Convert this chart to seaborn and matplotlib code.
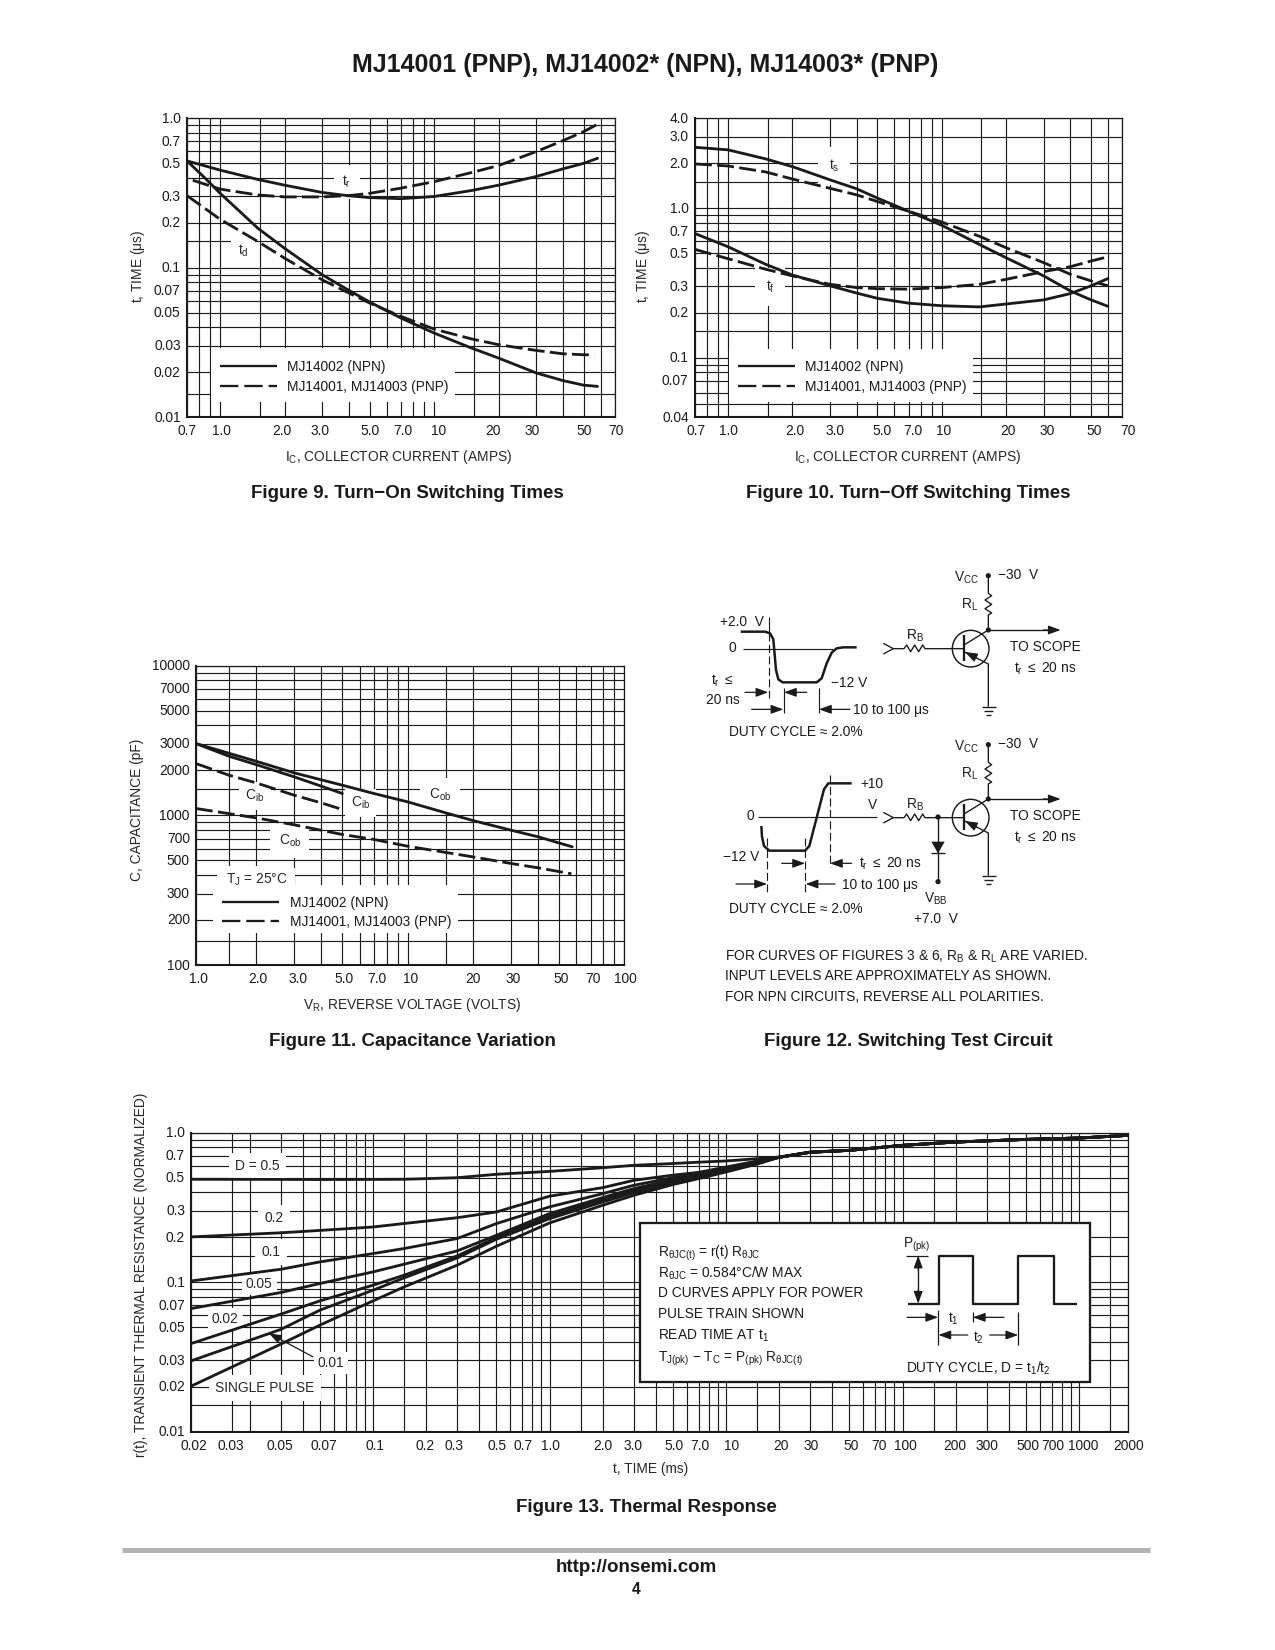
import matplotlib
matplotlib.use("Agg")
import matplotlib.pyplot as plt
import seaborn as sns
from matplotlib.patches import Circle, Polygon, Rectangle
from matplotlib.ticker import NullFormatter
from matplotlib.transforms import Affine2D

W, H, DPI = 1275, 1650, 150
FS = 6.6

# ---- Figure 9 ----
ic9_tr_npn = [0.7, 1.0, 1.5, 2, 3, 4, 5, 7, 10, 15, 20, 30, 40, 50, 58]
tr_npn = [.519, .45, .39, .357, .319, .303, .295, .29, .30, .329, .357, .408, .459, .50, .54]
ic9_tr_pnp = [0.745, 1.0, 1.5, 2, 3, 4, 5, 7, 10, 15, 20, 30, 40, 50, 58]
tr_pnp = [.385, .336, .307, .298, .298, .304, .315, .341, .377, .434, .483, .599, .709, .815, .912]
ic9_td_npn = [0.7, 0.85, 1.0, 1.5, 2, 3, 4, 5, 7, 10, 15, 20, 30, 40, 50, 58]
td_npn = [.519, .398, .315, .184, .135, .0898, .0706, .059, .0461, .0366, .029, .0249, .0198, .0176, .0164, .0161]
ic9_td_pnp = [0.7, 1.0, 1.5, 2, 3, 4, 5, 7, 10, 15, 20, 30, 40, 50, 56]
td_pnp = [.304, .211, .15, .116, .083, .0678, .0581, .0473, .0389, .0334, .0306, .028, .0266, .0262, .0262]

# ---- Figure 10 ----
ic10 = [0.7, 1.0, 1.5, 2, 3, 4, 5, 7, 10, 15, 20, 30, 40, 50, 60]
ts_npn = [2.56, 2.46, 2.14, 1.90, 1.55, 1.35, 1.17, .955, .77, .573, .467, .353, .28, .244, .221]
ts_pnp = [1.98, 1.92, 1.75, 1.57, 1.36, 1.23, 1.11, .955, .81, .65, .545, .433, .362, .327, .303]
tf_npn = [.678, .553, .422, .358, .303, .271, .25, .232, .223, .219, .229, .244, .269, .303, .339]
tf_pnp = [.531, .46, .391, .353, .31, .295, .29, .288, .295, .31, .335, .377, .407, .444, .474]

# ---- Figure 11 ----
# the printed grid starts a little right of a true 1.0, so the left edge is 1.056
VR_LEFT = 1.056
vr_cob_npn = [VR_LEFT, 2, 3, 5, 7, 10, 15, 20, 30, 40, 57.5]
cob_npn = [3017, 2299, 1922, 1590, 1399, 1231, 1039, 924, 796, 719, 616]
vr_cib_npn = [VR_LEFT, 1.5, 2, 3, 4, 5]
cib_npn = [3017, 2483, 2184, 1807, 1566, 1399]
vr_cib_pnp = [VR_LEFT, 1.5, 2, 3, 4, 5]
cib_pnp = [2218, 1854, 1648, 1363, 1211, 1094]
vr_cob_pnp = [VR_LEFT, 2, 3, 5, 7, 10, 20, 30, 40, 57]
cob_pnp = [1111, 962, 864, 745, 690, 622, 528, 477, 446, 407]

# ---- Figure 13 ----
# the printed labels below 0.1 ms are not on log spacing, the grid is; curves follow the grid
T_LEFT, T_RIGHT = 0.00934, 1902
t13 = [T_LEFT, .03, .05, .1, .15, .3, .5, 1, 2, 3, 5, 7, 10, 15, 20, 30, 50, 100, 200, 500, 1000, T_RIGHT]
r_d50 = [.488, .487, .486, .487, .488, .50, .527, .551, .583, .605, .622, .635, .647, .67, .687, .743, .762, .823, .866, .902, .921, .96]
r_d20 = [.2009, .214, .222, .234, .247, .27, .295, .376, .429, .48, .52, .543, .589, .647, .685, .74, .762, .823, .866, .902, .921, .96]
r_d10 = [.102, .122, .1367, .1554, .168, .196, .2466, .319, .391, .445, .50, .532, .575, .64, .685, .74, .762, .823, .866, .902, .921, .96]
r_d05 = [.0667, .0853, .098, .1172, .132, .162, .206, .2877, .368, .4226, .485, .524, .569, .634, .685, .74, .762, .823, .866, .902, .921, .96]
r_d02 = [.0389, .0611, .075, .0955, .1114, .15, .1988, .276, .357, .412, .475, .516, .563, .63, .685, .74, .762, .823, .866, .902, .921, .96]
r_d01 = [.0298, .0483, .065, .0884, .1069, .1454, .1938, .266, .344, .397, .461, .50, .552, .621, .685, .74, .762, .823, .866, .902, .921, .96]
r_single = [.0202, .0385, .0516, .075, .093, .13, .174, .249, .327, .381, .45, .493, .546, .617, .685, .74, .762, .823, .866, .902, .921, .96]

# grids and ticks
ic_minor = [.8, .9, 1.53, 4, 6, 8, 9, 15.3, 40, 60]
ic_ticks = [.7, 1, 2, 3, 5, 7, 10, 20, 30, 50, 70]
ic_labels = ["0.7", "1.0", "2.0", "3.0", "5.0", "7.0", "10", "20", "30", "50", "70"]
t9_ticks = [.01, .02, .03, .05, .07, .1, .2, .3, .5, .7, 1]
t9_labels = ["0.01", "0.02", "0.03", "0.05", "0.07", "0.1", "0.2", "0.3", "0.5", "0.7", "1.0"]
t9_minor = [.0143, .04, .06, .08, .09, .15, .4, .6, .8, .9]
t10_ticks = [.04, .07, .1, .2, .3, .5, .7, 1, 2, 3, 4]
t10_labels = ["0.04", "0.07", "0.1", "0.2", "0.3", "0.5", "0.7", "1.0", "2.0", "3.0", "4.0"]
t10_minor = [.049, .058, .08, .09, .15, .4, .6, .8, .9, 1.5]
vr_ticks = [VR_LEFT, 2, 3, 5, 7, 10, 20, 30, 50, 70, 100]
vr_labels = ["1.0", "2.0", "3.0", "5.0", "7.0", "10", "20", "30", "50", "70", "100"]
vr_minor = [1.5, 4, 6, 8, 9, 15, 40, 60, 80, 90]
c_ticks = [100, 200, 300, 500, 700, 1000, 2000, 3000, 5000, 7000, 10000]
c_labels = ["100", "200", "300", "500", "700", "1000", "2000", "3000", "5000", "7000", "10000"]
c_minor = [145, 400, 600, 800, 900, 1500, 4000, 6000, 8000, 9000]
t13_ticks = [T_LEFT, .0158, .03, .05, .1, .2, .3, .5, .7, 1, 2, 3, 5, 7, 10, 20, 30, 50, 70, 100, 200, 300, 500, 700, 1000, T_RIGHT]
t13_labels = ["0.02", "0.03", "0.05", "0.07", "0.1", "0.2", "0.3", "0.5", "0.7", "1.0", "2.0", "3.0", "5.0", "7.0",
              "10", "20", "30", "50", "70", "100", "200", "300", "500", "700", "1000", "2000"]
t13_minor = [.02, .04, .06, .07, .08, .09, .15, .4, .6, .8, .9, 1.5, 4, 6, 8, 9, 15, 40, 60, 80, 90,
             150, 400, 600, 800, 900, 1500]
r_ticks = [.01, .02, .03, .05, .07, .1, .2, .3, .5, .7, 1]
r_labels = ["0.01", "0.02", "0.03", "0.05", "0.07", "0.1", "0.2", "0.3", "0.5", "0.7", "1.0"]
r_minor = [.015, .04, .06, .08, .09, .15, .4, .6, .8, .9]

# the printed x labels sit a few pixels off their grid lines
nudge9 = [0, 1, -3, -2, 0, 2, 4, -5, -4, 0, 1]
nudge10 = [1, 0, 2, 5, 4, 4, 2, 2, 3, 3, 5]
nudge11 = [2, 2, 4, 2, 3, 3, 0, 2, 2, 2, 1]
nudge13 = [2, -1, -1, 4, 2, -1, -3, 1, 1, 1, 0, -1, 1, 1, 5, 2, 1, 2, 4, 3, -1, 0, 2, 1, 4, 0]

sns.set_theme(style="white")
plt.rcParams["font.family"] = ["Liberation Sans", "DejaVu Sans"]
plt.rcParams["mathtext.fontset"] = "custom"
plt.rcParams["mathtext.rm"] = "Liberation Sans"
plt.rcParams["mathtext.it"] = "Liberation Sans"
plt.rcParams["mathtext.bf"] = "Liberation Sans:bold"
plt.rcParams["mathtext.default"] = "rm"

fig = plt.figure(figsize=(W / DPI, H / DPI), dpi=DPI, facecolor="white")
px = Affine2D().scale(1, -1).translate(0, H)  # page pixels -> display


def panel(box, xlim, ylim, xt, xl, xm, yt, yl, ym, xlabel, xpos, ylabel, ypos, nudge):
    l, t, r, b = box
    ax = fig.add_axes([l / W, 1 - b / H, (r - l) / W, (b - t) / H])
    ax.set_xscale("log")
    ax.set_yscale("log")
    ax.set_xticks(xt, xl)
    ax.set_xticks(xm, minor=True)
    ax.set_yticks(yt, yl)
    ax.set_yticks(ym, minor=True)
    ax.xaxis.set_minor_formatter(NullFormatter())
    ax.yaxis.set_minor_formatter(NullFormatter())
    ax.set_xlim(xlim)
    ax.set_ylim(ylim)
    ax.grid(True, which="both", color="k", lw=.55)
    ax.set_axisbelow(True)
    ax.tick_params(which="both", length=0, labelsize=FS, colors="k")
    ax.tick_params(axis="x", pad=3)
    ax.tick_params(axis="y", pad=3)
    for s, w in (("left", 1.0), ("bottom", 1.0), ("top", .6), ("right", .6)):
        ax.spines[s].set_linewidth(w)
        ax.spines[s].set_color("k")
    ax.set_xlabel(xlabel, fontsize=FS, va="center", ha="center")
    ax.set_ylabel(ylabel, fontsize=FS, va="center", ha="center")
    ax.xaxis.set_label_coords(xpos[0], xpos[1], transform=px)
    ax.yaxis.set_label_coords(ypos[0], ypos[1], transform=px)
    for lab, dx in zip(ax.get_xticklabels(), nudge):
        lab.set_transform(lab.get_transform() + Affine2D().translate(dx * 1.05, -.6))
    for lab in ax.get_yticklabels():
        lab.set_transform(lab.get_transform() + Affine2D().translate(0, 1))
    return ax


def curve(ax, x, y, dashed=False, lw=1.35):
    ls = (0, (6, 1.9)) if dashed else "-"
    sns.lineplot(x=x, y=y, ax=ax, color="k", linewidth=lw, linestyle=ls, estimator=None, zorder=3)


def blank(ax, x0, y0, x1, y1):
    ax.add_patch(Rectangle((x0, y0), x1 - x0, y1 - y0, fc="w", ec="none", transform=px, zorder=2, clip_on=False))


def tag(ax, x, y, s, pad=3.0, size=FS):
    ax.text(x, y, s, transform=px, fontsize=size, ha="center", va="center", zorder=2.5,
            bbox=dict(fc="w", ec="none", pad=pad))


# ---- the four charts ----
ax9 = panel((187, 118.3, 615, 417.3), (.7, 70), (.01, 1), ic_ticks, ic_labels, ic_minor,
            t9_ticks, t9_labels, t9_minor, r"I$_{\mathrm{C}}$, COLLECTOR CURRENT (AMPS)", (399, 457),
            r"t, TIME ($\mathrm{\mu}$s)", (138, 266), nudge9)
curve(ax9, ic9_tr_npn, tr_npn)
curve(ax9, ic9_tr_pnp, tr_pnp, True)
curve(ax9, ic9_td_npn, td_npn)
curve(ax9, ic9_td_pnp, td_pnp, True)
blank(ax9, 211, 348.3, 455, 401.7)
tag(ax9, 347, 182, r"t$_{\mathrm{r}}$", pad=4)
tag(ax9, 243, 251, r"t$_{\mathrm{d}}$", pad=3)

ax10 = panel((695, 118.3, 1122.3, 417.3), (.7, 70), (.04, 4), ic_ticks, ic_labels, ic_minor,
             t10_ticks, t10_labels, t10_minor, r"I$_{\mathrm{C}}$, COLLECTOR CURRENT (AMPS)", (908, 457),
             r"t, TIME ($\mathrm{\mu}$s)", (643, 266), nudge10)
curve(ax10, ic10, ts_npn)
curve(ax10, ic10, ts_pnp, True)
curve(ax10, ic10, tf_npn)
curve(ax10, ic10, tf_pnp, True)
blank(ax10, 729, 349, 973, 401.7)
tag(ax10, 834, 166, r"t$_{\mathrm{s}}$", pad=5)
tag(ax10, 770, 287, r"t$_{\mathrm{f}}$", pad=5)

ax11 = panel((196, 665.7, 624.3, 965), (VR_LEFT, 100), (100, 10000), vr_ticks, vr_labels, vr_minor,
             c_ticks, c_labels, c_minor, r"V$_{\mathrm{R}}$, REVERSE VOLTAGE (VOLTS)", (411.7, 1005),
             "C, CAPACITANCE (pF)", (137, 810), nudge11)
curve(ax11, vr_cob_npn, cob_npn)
curve(ax11, vr_cib_npn, cib_npn)
curve(ax11, vr_cib_pnp, cib_pnp, True)
curve(ax11, vr_cob_pnp, cob_pnp, True)
blank(ax11, 213, 885, 458, 933.3)
blank(ax11, 217, 868, 295, 885)
tag(ax11, 254.8, 796, r"C$_{\mathrm{ib}}$", pad=3)
tag(ax11, 360.6, 803, r"C$_{\mathrm{ib}}$", pad=3)
tag(ax11, 440, 795, r"C$_{\mathrm{ob}}$", pad=4)
tag(ax11, 289.7, 841, r"C$_{\mathrm{ob}}$", pad=4)
tag(ax11, 257, 880, r"T$_{\mathrm{J}}$ = 25$\degree$C", pad=3)

ax13 = panel((191.3, 1132.7, 1128.3, 1431.7), (T_LEFT, T_RIGHT), (.01, 1), t13_ticks, t13_labels, t13_minor,
             r_ticks, r_labels, r_minor, "t, TIME (ms)", (651, 1469),
             "r(t), TRANSIENT THERMAL RESISTANCE (NORMALIZED)", (141, 1275), nudge13)
for r_vals in (r_d50, r_d20, r_d10, r_d05, r_d02, r_d01, r_single):
    curve(ax13, t13, r_vals)
tag(ax13, 257, 1166, "D = 0.5", pad=3)
tag(ax13, 274, 1218, "0.2", pad=3)
tag(ax13, 271, 1252, "0.1", pad=3)
tag(ax13, 259, 1284, "0.05", pad=2)
tag(ax13, 225, 1319, "0.02", pad=2)
tag(ax13, 331, 1363, "0.01", pad=2)
tag(ax13, 265, 1388, "SINGLE PULSE", pad=3)

# ---- page overlay: text, legends and circuit in pixel coordinates ----
pg = fig.add_axes([0, 0, 1, 1], facecolor="none", zorder=10)
pg.set_xlim(0, W)
pg.set_ylim(H, 0)
pg.axis("off")


def at(x, y, o):
    # o = page origin of a crop, optional third item is its x scale
    sx = o[2] if len(o) > 2 else 1 / 3
    return o[0] + x * sx, o[1] + y / 3


def wire(pts, o, lw=.65, **kw):
    xy = [at(p[0], p[1], o) for p in pts]
    pg.plot([p[0] for p in xy], [p[1] for p in xy], color="k", lw=lw, solid_capstyle="butt", **kw)


def say(x, y, s, o, ha="center", size=FS, **kw):
    xt, yt = at(x, y + 3, o)
    pg.text(xt, yt, s, fontsize=size, ha=ha, va="center", color="k", **kw)


def page(x, y, s, size, **kw):
    pg.text(x, y, s, fontsize=size, ha="center", va="center", color="k", fontweight="bold", **kw)


def arrow(a, b, o):
    pg.annotate("", xy=at(b[0], b[1], o), xytext=at(a[0], a[1], o),
                arrowprops=dict(arrowstyle="-|>,head_length=.55,head_width=.2", color="k", lw=.6,
                                shrinkA=0, shrinkB=0, mutation_scale=9))


def dot(x, y, o, r=2.6):
    pg.add_patch(Circle(at(x, y, o), r, fc="k", ec="none"))


page(645, 65, "MJ14001 (PNP), MJ14002* (NPN), MJ14003* (PNP)", 12)
for x, y, s in ((407, 494, "Figure 9. Turn\u2212On Switching Times"),
                (908.5, 494, "Figure 10. Turn\u2212Off Switching Times"),
                (412, 1042, "Figure 11. Capacitance Variation"),
                (908.5, 1042, "Figure 12. Switching Test Circuit"),
                (646, 1508, "Figure 13. Thermal Response")):
    page(x, y, s, 9)
pg.plot([122, 1150], [1549.6, 1549.6], color="#b4b4b4", lw=2.4, solid_capstyle="butt")
page(636, 1567, "http://onsemi.com", 9)
page(636, 1589.5, "4", 7.5)

# legends
for o, x0, x1, xt, y0, y1 in (((110, 100), 330, 500, 530, 797, 857),
                              ((620, 100), 355, 525, 555, 797, 857),
                              ((108.2, 640, .3457), 330, 495, 525, 785, 843)):
    wire([(x0, y0), (x1, y0)], o, lw=1.1)
    wire([(x0, y1), (x1, y1)], o, lw=1.1, linestyle=(0, (8, 2.6)))
    say(xt, y0, "MJ14002 (NPN)", o, ha="left")
    say(xt, y1, "MJ14001, MJ14003 (PNP)", o, ha="left")

# transistor stage, same drawing twice
for o in ((680, 550), (680, 719)):
    say(898, 80, r"V$_{\mathrm{CC}}$", o, ha="right")
    say(955, 73, "\u221230  V", o, ha="left")
    dot(925, 77, o)
    wire([(925, 77), (925, 130), (935, 137), (915, 150), (935, 163), (915, 176), (935, 189), (925, 195), (925, 240)], o)
    say(870, 160, r"R$_{\mathrm{L}}$", o)
    dot(925, 240, o)
    wire([(925, 240), (1110, 240)], o)
    arrow((1090, 240), (1142, 240), o)
    pg.add_patch(Circle(at(872, 296, o), 55 / 3, fc="none", ec="k", lw=.7))
    wire([(852, 256), (852, 332)], o, lw=1.1)
    wire([(852, 285), (925, 240)], o)
    wire([(852, 305), (925, 342), (925, 470)], o)
    arrow((890, 324), (855, 306), o)
    wire([(905, 470), (947, 470)], o)
    wire([(913, 482), (939, 482)], o)
    wire([(918, 495), (932, 495)], o)
    wire([(610, 280), (640, 296), (610, 312)], o)
    wire([(640, 296), (672, 296), (680, 285), (692, 305), (704, 285), (716, 305), (728, 285), (735, 296), (852, 296)], o)
    say(705, 253, r"R$_{\mathrm{B}}$", o)
    say(1095, 287, "TO SCOPE", o)
    say(1095, 352, r"t$_{\mathrm{r}}$ $\leq$ 20 ns", o)

# top waveform
o = (680, 550)
say(185, 212, "+2.0  V", o)
say(158, 292, "0", o)
wire([(190, 296), (460, 296)], o, lw=.55)
wire([(182, 245), (255, 245), (270, 250), (280, 268), (288, 360), (295, 388), (308, 397), (410, 397), (425, 385),
      (440, 340), (455, 308), (470, 295), (490, 292), (530, 292)], o, lw=1.2)
wire([(266, 200), (266, 250)], o, lw=.55)
wire([(266, 250), (266, 445)], o, lw=.55, linestyle=(0, (7, 3)))
say(128, 390, r"t$_{\mathrm{r}}$ $\leq$", o)
say(128, 448, "20 ns", o)
say(508, 397, "\u221212 V", o)
arrow((195, 427), (265, 427), o)
arrow((380, 427), (312, 427), o)
wire([(311, 415), (311, 490)], o, lw=.55)
wire([(416, 415), (416, 490)], o, lw=.55)
arrow((215, 478), (310, 478), o)
arrow((510, 478), (417, 478), o)
say(520, 478, "10 to 100 \u03bcs", o, ha="left")
say(148, 542, "DUTY CYCLE \u2248 2.0%", o, ha="left")

# bottom waveform
o = (680, 720)
say(210, 285, "0", o)
say(577, 190, "+10", o)
say(577, 253, "V", o)
say(182, 407, "\u221212 V", o)
wire([(233, 290), (590, 290)], o, lw=.55)
wire([(244, 318), (246, 350), (252, 378), (268, 392), (375, 392), (388, 378), (432, 208), (445, 190), (515, 190)], o, lw=1.2)
for x, y0, y1 in ((449, 165, 440), (262, 355, 515), (376, 355, 515)):
    wire([(x, y0), (x, y1)], o, lw=.55, linestyle=(0, (7, 3)))
arrow((305, 430), (375, 430), o)
arrow((515, 430), (450, 430), o)
say(538, 428, r"t$_{\mathrm{r}}$ $\leq$ 20 ns", o, ha="left")
arrow((168, 492), (261, 492), o)
arrow((465, 492), (377, 492), o)
say(485, 492, "10 to 100 \u03bcs", o, ha="left")
say(148, 565, "DUTY CYCLE \u2248 2.0%", o, ha="left")
dot(774, 291, o)
dot(774, 485, o)
wire([(774, 291), (774, 485)], o)
pg.add_patch(Polygon([at(754, 365, o), at(794, 365, o), at(774, 400, o)], fc="k", ec="none"))
wire([(752, 400), (796, 400)], o)
say(767, 533, r"V$_{\mathrm{BB}}$", o)
say(768, 593, "+7.0  V", o)
say(135, 706, r"FOR CURVES OF FIGURES 3 & 6, R$_{\mathrm{B}}$ & R$_{\mathrm{L}}$ ARE VARIED.", o, ha="left")
say(135, 766, "INPUT LEVELS ARE APPROXIMATELY AS SHOWN.", o, ha="left")
say(135, 828, "FOR NPN CIRCUITS, REVERSE ALL POLARITIES.", o, ha="left")

# thermal response inset and pointer
arrow((578, 800), (447, 730), (120, 1090))
o = (620, 1090, .3377)
x0, y0 = at(59, 400, o)
x1, y1 = at(1393, 875, o)
pg.add_patch(Rectangle((x0, y0), x1 - x0, y1 - y0, fc="w", ec="k", lw=1.1))
say(112, 488, r"R$_{\theta \mathrm{JC(t)}}$ = r(t) R$_{\theta \mathrm{JC}}$", o, ha="left")
say(112, 548, r"R$_{\theta \mathrm{JC}}$ = 0.584$\degree$C/W MAX", o, ha="left")
say(112, 607, "D CURVES APPLY FOR POWER", o, ha="left")
say(112, 670, "PULSE TRAIN SHOWN", o, ha="left")
say(112, 733, r"READ TIME AT t$_1$", o, ha="left")
say(112, 803, r"T$_{\mathrm{J(pk)}}$ $-$ T$_{\mathrm{C}}$ = P$_{\mathrm{(pk)}}$ R$_{\theta \mathrm{JC(t)}}$", o, ha="left")
say(878, 461, r"P$_{\mathrm{(pk)}}$", o)
wire([(852, 641), (944, 641), (944, 497), (1044, 497), (1044, 641), (1180, 641), (1180, 497), (1284, 497), (1284, 641),
      (1353, 641)], o, lw=1.1)
wire([(847, 497), (912, 497)], o, lw=.6)
wire([(883, 510), (883, 630)], o)
arrow((883, 540), (883, 497), o)
arrow((883, 600), (883, 641), o)
arrow((850, 682), (942, 682), o)
arrow((1137, 682), (1045, 682), o)
say(987, 682, r"t$_1$", o)
wire([(942, 660), (942, 765)], o, lw=.6)
wire([(1044, 665), (1044, 697)], o, lw=.6)
wire([(1180, 665), (1180, 765)], o, lw=.6)
arrow((1030, 735), (943, 735), o)
arrow((1095, 735), (1179, 735), o)
say(1060, 740, r"t$_2$", o)
say(848, 832, r"DUTY CYCLE, D = t$_1$/t$_2$", o, ha="left")

fig.savefig("out.png", dpi=DPI, facecolor="white")
